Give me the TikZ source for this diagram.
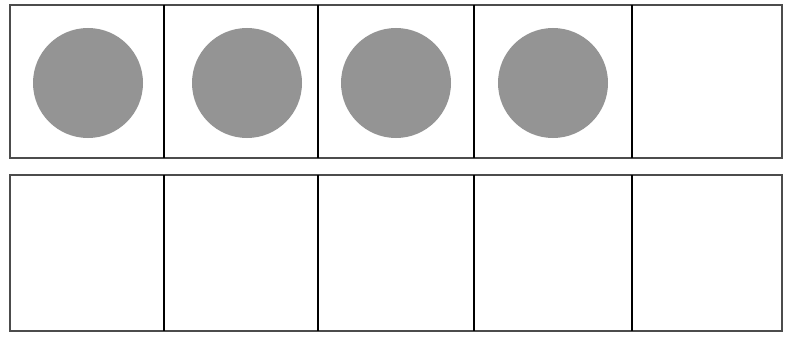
\documentclass[tikz,border=0pt]{standalone}
\begin{document}
\begin{tikzpicture}[x=0.3mm,y=-0.3mm]
            \useasboundingbox (0,0) rectangle (785,339);
            \tikzset{frame/.style={draw=black!70,line width=0.7mm},
                     divider/.style={draw=black,line width=0.45mm},
                     counter/.style={fill=black!42}}

            % top ten-frame row
            \draw[frame] (10,5) rectangle (782,158);
            \foreach \x in {164,318,474,632}
                \draw[divider] (\x,5)--(\x,158);

            % bottom row
            \draw[frame] (10,175) rectangle (782,331);
            \foreach \x in {164,318,474,632}
                \draw[divider] (\x,175)--(\x,331);

            % counters
            \foreach \x in {88,247,396,553}
                \fill[counter] (\x,83) circle (55);
        \end{tikzpicture}
\end{document}
